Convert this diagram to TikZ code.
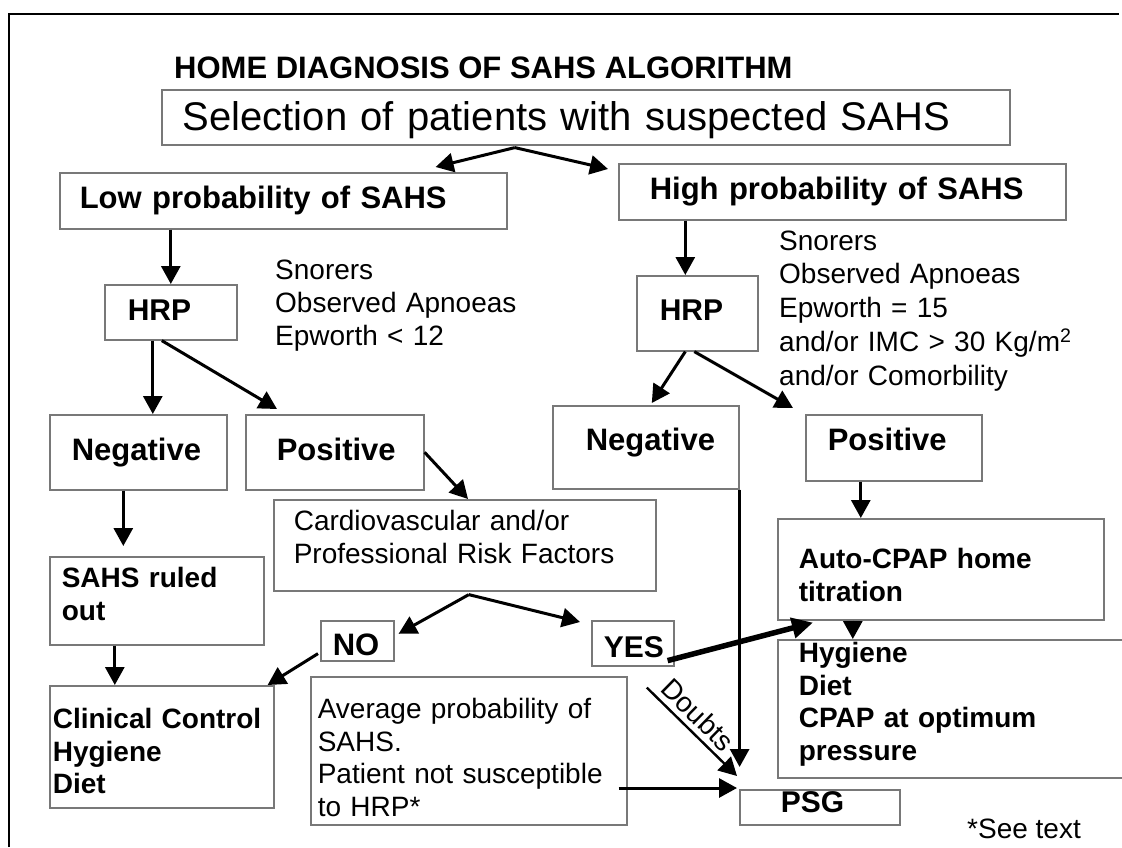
\documentclass[tikz,border=0pt]{standalone}
\usepackage{fontspec}
\setmainfont{Liberation Sans}
\usepackage{tikz}
\usetikzlibrary{arrows.meta,calc,positioning}
\definecolor{boxgray}{RGB}{120,120,120}
\hyphenpenalty=10000
\exhyphenpenalty=10000
\tikzset{box/.style={draw=boxgray, line width=1.6pt, anchor=north west, align=left, inner ysep=0pt}}
\tikzset{plain/.style={anchor=base west, align=left, inner sep=0pt}}
\tikzset{rg/.style={font=\fontsize{28}{#1}\selectfont}, rg/.default=32.5}
\tikzset{bd/.style={font=\fontsize{#1}{32.5}\selectfont\bfseries}}
\tikzset{arr/.style={line width=3pt, -{Triangle[length=18pt,width=19pt]}}}
\tikzset{thickarr/.style={line width=5.5pt, -{Triangle[length=21pt,width=20pt]}}}

\begin{document}
\begin{tikzpicture}[x=1pt, y=-1pt]
  \fill[white] (0,0) rectangle (1122,847);
  \useasboundingbox (0,0) rectangle (1122,847);
  \draw[line width=2.6pt] (9,847) -- (9,14) -- (1119,14);
  \node[plain, bd=31] (title) at (174,78) {HOME DIAGNOSIS OF SAHS ALGORITHM};
  % top of the tree
  \node[box, font=\fontsize{40}{44}\selectfont, inner xsep=21pt, text width=806pt, text height=41pt, text depth=14pt] (sel) at (161,89) {Selection of patients with suspected SAHS};
  \node[box, bd=31, inner xsep=20pt, text width=407pt, text height=36pt, text depth=20pt] (low) at (59,172) {Low probability of SAHS};
  \node[box, bd=31, inner xsep=31pt, text width=385pt, text height=36pt, text depth=20pt] (high) at (618,163) {High probability of SAHS};
  \node[box, bd=30, inner xsep=23pt, text width=86pt, text height=36pt, text depth=19pt] (hrpL) at (104,284) {HRP};
  \node[box, bd=30, inner xsep=23pt, text width=75pt, text height=45pt, text depth=30pt] (hrpR) at (636,275) {HRP};
  \node[plain, rg=33, text width=260pt] (critL) at (275,279) {Snorers\\Observed Apnoeas\\Epworth < 12};
  \node[plain, rg=33.8, text width=330pt] (critR) at (779,250) {Snorers\\Observed Apnoeas\\Epworth = 15\\and/or IMC > 30 Kg/m\textsuperscript{2}\\and/or Comorbility};
  % results of HRP
  \node[box, bd=31, inner xsep=22pt, text width=133pt, text height=46pt, text depth=29pt] (negL) at (49,414) {Negative};
  \node[box, bd=31, inner xsep=31pt, text width=116pt, text height=46pt, text depth=29pt] (posL) at (245,414) {Positive};
  \node[box, bd=31, inner xsep=33pt, text width=120pt, text height=45pt, text depth=38pt] (negR) at (552,405) {Negative};
  \node[box, bd=31, inner xsep=22pt, text width=132pt, text height=36pt, text depth=30pt] (posR) at (805,414) {Positive};
  \node[box, rg=33, inner xsep=20pt, text width=342pt, text height=31pt, text depth=60pt] (cardio) at (273,499) {Cardiovascular and/or\\Professional Risk Factors};
  \node[box, bd=31, inner xsep=12pt, text width=49pt, text height=35pt, text depth=5pt] (no) at (320,620) {NO};
  \node[box, bd=30, inner xsep=12pt, text width=58pt, text height=37pt, text depth=8pt] (yes) at (591,620) {YES};
  \node[box, bd=28, inner xsep=12pt, text width=190pt, text height=31pt, text depth=57pt] (ruled) at (49,556) {SAHS ruled\\out};
  \node[box, bd=28, inner xsep=3pt, text width=218pt, text height=43pt, text depth=79pt] (clinical) at (49,685) {Clinical Control\\Hygiene\\Diet};
  \node[box, rg, inner xsep=7pt, text width=302pt, text height=42pt, text depth=106pt] (avg) at (310,676) {Average probability of\\SAHS.\\Patient not susceptible\\to HRP*};
  \node[box, bd=28, inner xsep=21pt, text width=284pt, text height=50pt, text depth=51pt] (auto) at (777,518) {Auto-CPAP home\\titration};
  \node[box, bd=28, inner xsep=21pt, text width=305pt, text height=23pt, text depth=115pt] (hyg) at (777,639) {Hygiene\\Diet\\CPAP at optimum\\pressure};
  \node[box, bd=30, inner xsep=41pt, text width=78pt, text height=23pt, text depth=12pt] (psg) at (739,789) {PSG};
  \node[plain, rg] (seetext) at (967,838) {*See text};
  % connectors
  \coordinate (selfork) at ($(sel.south)+(-71,2)$);
  \draw[arr] (selfork) -- ($(low.north east)+(-72,-5)$);
  \draw[arr] (selfork) -- ($(high.north west)+(-10,6)$);
  \draw[arr] (low.south -| hrpL.north) -- (hrpL.north);
  \draw[arr] ([xshift=-12pt]hrpR.north |- high.south) -- ([xshift=-12pt]hrpR.north);
  \draw[arr] ([xshift=-18pt]hrpL.south) -- ([xshift=-18pt]hrpL.south |- negL.north);
  \draw[arr] ([xshift=-9pt]hrpL.south) -- ($(posL.north west)+(32,-5)$);
  \draw[arr] ([xshift=-12pt]hrpR.south) -- ($(negR.north)+(6,-2)$);
  \draw[arr] ([xshift=-3pt]hrpR.south) -- ($(posR.north west)+(-12,-6)$);
  \draw[arr, shorten >=10pt] ([xshift=-15pt]negL.south) -- ([xshift=-15pt]negL.south |- ruled.north);
  \draw[arr] ([xshift=-42pt]ruled.south) -- ([xshift=-42pt]ruled.south |- clinical.north);
  \draw[arr] (posL.east) -- ($(cardio.north west)+(195,0)$);
  \coordinate (cfork) at ($(cardio.south)+(4,3)$);
  \draw[arr] (cfork) -- ($(no.east)+(4,-7)$);
  \draw[arr] (cfork) -- ($(yes.north west)+(-11,2)$);
  \draw[arr] ($(no.south west)+(-2,-8)$) -- ($(clinical.north east)+(-7,0)$);
  \draw[arr] ([xshift=-33pt]posR.south) -- ([xshift=-33pt]posR.south |- auto.north);
  \draw[arr] ([xshift=-88pt]auto.south) -- ([xshift=-88pt]auto.south |- hyg.north);
  \draw[thickarr] ($(yes.south east)+(-7,-6)$) -- ($(auto.south west)+(36,2)$);
  \draw[arr, line width=2.4pt] ($(yes.south)+(14,21)$) -- node[rg, sloped, above=4pt, pos=0.44, inner sep=1pt] {Doubts} ($(psg.north west)+(-2,-13)$);
  \draw[arr] (negR.south east) -- ($(negR.south east |- psg.north)+(0,-22)$);
  \draw[arr] ($(avg.east |- psg.north west)+(-9,-1)$) -- ($(psg.north west)+(-2,-1)$);
\end{tikzpicture}
\end{document}
